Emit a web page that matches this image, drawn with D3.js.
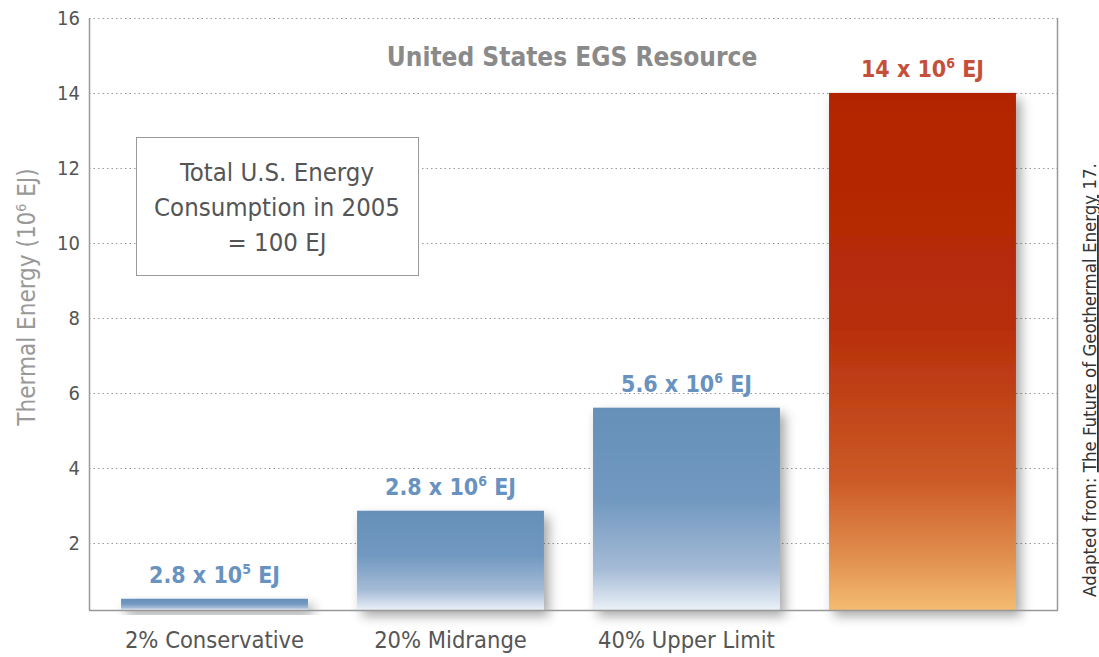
<!DOCTYPE html>
<meta charset="utf-8">
<style>
  body { margin: 0; background: #fff; }
  text { font-family: "Liberation Sans Narrow", "DejaVu Sans Condensed", "Roboto", sans-serif; font-stretch: condensed; }
</style>
<svg width="1099" height="657"></svg>
<script src="https://d3js.org/d3.v7.min.js"></script>
<script>

// data
var categories = ["2% Conservative", "20% Midrange", "40% Upper Limit", ""];
var values = [0.5, 2.85, 5.6, 14];
var valueLabels = [["2.8 x 10", "5", " EJ"], ["2.8 x 10", "6", " EJ"], ["5.6 x 10", "6", " EJ"], ["14 x 10", "6", " EJ"]];
var yTicks = [2, 4, 6, 8, 10, 12, 14, 16];
var boxLines = ["Total U.S. Energy", "Consumption in 2005", "= 100 EJ"];

var svg = d3.select("svg");
var plotLeft = 89, plotRight = 1057, plotTop = 18, plotBottom = 610;

var y = d3.scaleLinear().domain([0.2, 16]).range([plotBottom, plotTop]);
var x = d3.scaleBand().domain(categories).range([96.5, 1040.5])
    .paddingInner(0.208).paddingOuter(0.104);

var defs = svg.append("defs");
var blue = defs.append("linearGradient").attr("id", "blueGrad")
    .attr("x1", 0).attr("y1", 0).attr("x2", 0).attr("y2", 1);
blue.append("stop").attr("offset", "0").attr("stop-color", "#6690b9");
blue.append("stop").attr("offset", "0.45").attr("stop-color", "#7198c0");
blue.append("stop").attr("offset", "0.8").attr("stop-color", "#a5bbd6");
blue.append("stop").attr("offset", "1").attr("stop-color", "#eaf0f7");

var red = defs.append("linearGradient").attr("id", "redGrad")
    .attr("x1", 0).attr("y1", 0).attr("x2", 0).attr("y2", 1);
red.append("stop").attr("offset", "0").attr("stop-color", "#b22400");
red.append("stop").attr("offset", "0.45").attr("stop-color", "#b72e0a");
red.append("stop").attr("offset", "0.75").attr("stop-color", "#cc5a27");
red.append("stop").attr("offset", "0.9").attr("stop-color", "#e1904f");
red.append("stop").attr("offset", "1").attr("stop-color", "#f4bc71");

var shadow = defs.append("filter").attr("id", "shadow")
    .attr("x", "-20%").attr("y", "-20%").attr("width", "140%").attr("height", "160%");
shadow.append("feDropShadow").attr("dx", 5).attr("dy", 6)
    .attr("stdDeviation", 6).attr("flood-color", "#000").attr("flood-opacity", 0.35);

// gridlines
svg.append("g").selectAll("line").data(yTicks).enter().append("line")
    .attr("x1", plotLeft).attr("x2", plotRight)
    .attr("y1", function(d) { return Math.round(y(d)) + 0.5; })
    .attr("y2", function(d) { return Math.round(y(d)) + 0.5; })
    .attr("stroke", "#999").attr("stroke-dasharray", "1.5,3");

// y tick labels
svg.append("g").selectAll("text").data(yTicks).enter().append("text")
    .attr("x", 80).attr("y", function(d) { return y(d) + 7; })
    .attr("text-anchor", "end").attr("font-size", 20).attr("fill", "#555")
    .text(function(d) { return d; });

// frame
svg.append("line").attr("x1", plotLeft + 0.5).attr("x2", plotLeft + 0.5).attr("y1", plotTop).attr("y2", plotBottom)
    .attr("stroke", "#999").attr("stroke-width", 1.5);
svg.append("line").attr("x1", plotRight + 0.5).attr("x2", plotRight + 0.5).attr("y1", plotTop).attr("y2", plotBottom)
    .attr("stroke", "#999").attr("stroke-width", 1.5);

// bars
svg.append("g").selectAll("rect").data(values).enter().append("rect")
    .attr("x", function(d, i) { return x(categories[i]); })
    .attr("width", x.bandwidth())
    .attr("y", function(d) { return y(d); })
    .attr("height", function(d) { return plotBottom - y(d); })
    .attr("fill", function(d, i) { return i == 3 ? "url(#redGrad)" : "url(#blueGrad)"; })
    .attr("filter", "url(#shadow)");

svg.append("line").attr("x1", plotLeft).attr("x2", plotRight + 1).attr("y1", plotBottom + 0.5).attr("y2", plotBottom + 0.5)
    .attr("stroke", "#999").attr("stroke-width", 1.5);

// value labels
var vl = svg.append("g").selectAll("text").data(values).enter().append("text")
    .attr("x", function(d, i) { return x(categories[i]) + x.bandwidth() / 2; })
    .attr("y", function(d) { return y(d) - 16; })
    .attr("text-anchor", "middle").attr("font-size", 23).attr("font-weight", "bold")
    .attr("fill", function(d, i) { return i == 3 ? "#c5503a" : "#6892bf"; });
vl.append("tspan").text(function(d, i) { return valueLabels[i][0]; });
vl.append("tspan").attr("font-size", 14).attr("dy", -9).text(function(d, i) { return valueLabels[i][1]; });
vl.append("tspan").attr("dy", 9).text(function(d, i) { return valueLabels[i][2]; });

// category labels
svg.append("g").selectAll("text").data(categories).enter().append("text")
    .attr("x", function(d) { return x(d) + x.bandwidth() / 2; })
    .attr("y", 648).attr("text-anchor", "middle")
    .attr("font-size", 23.5).attr("fill", "#555")
    .text(function(d) { return d; });

// title
svg.append("text").attr("x", 572).attr("y", 66).attr("text-anchor", "middle")
    .attr("font-size", 26).attr("font-weight", "bold").attr("fill", "#8a8a8a")
    .text("United States EGS Resource");

// note box
svg.append("rect").attr("x", 136.5).attr("y", 137.5).attr("width", 282).attr("height", 138)
    .attr("fill", "#fff").attr("stroke", "#999");
svg.append("g").selectAll("text").data(boxLines).enter().append("text")
    .attr("x", 277).attr("y", function(d, i) { return 181 + i * 35; })
    .attr("text-anchor", "middle").attr("font-size", 25.5).attr("fill", "#555")
    .text(function(d) { return d; });

// y axis title
var yt = svg.append("text").attr("transform", "translate(35,297) rotate(-90)")
    .attr("text-anchor", "middle").attr("font-size", 24).attr("fill", "#999");
yt.append("tspan").text("Thermal Energy (10");
yt.append("tspan").attr("font-size", 14).attr("dy", -9).text("6");
yt.append("tspan").attr("dy", 9).text(" EJ)");

// source
var src = svg.append("text").attr("transform", "translate(1096,380) rotate(-90)")
    .attr("text-anchor", "middle").attr("font-size", 18.5).attr("fill", "#333");
src.append("tspan").text("Adapted from: ");
src.append("tspan").attr("text-decoration", "underline").text("The Future of Geothermal Energy");
src.append("tspan").text(" 17.");

</script>
